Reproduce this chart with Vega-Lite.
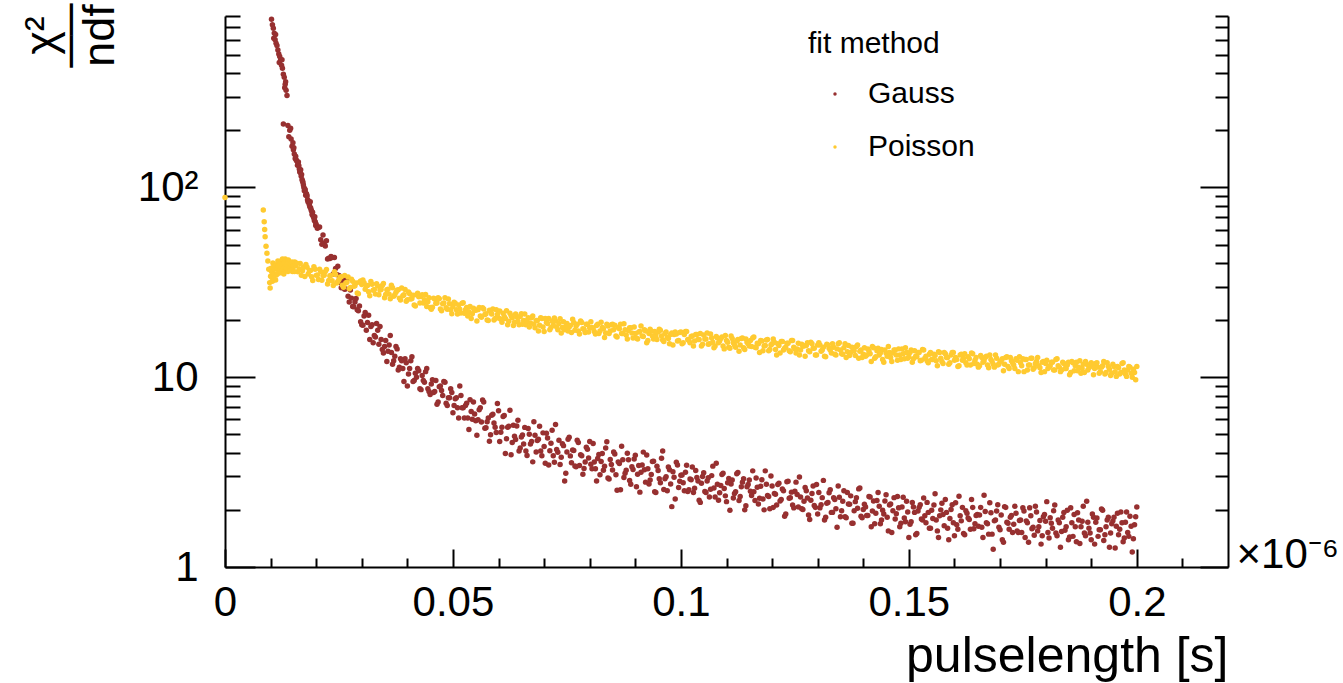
{
"$schema":"https://vega.github.io/schema/vega-lite/v6.json",
"width":1003,"height":551,
"autosize":{"type":"none"},
"padding":{"left":225,"top":16,"right":115,"bottom":116},
"background":"white",
"config":{"view":{"stroke":null},"font":"Liberation Sans",
 "axis":{"domainColor":"black","domainWidth":2,"tickColor":"black","tickWidth":2,"grid":false,"labelColor":"black","titleColor":"black","labelFont":"Liberation Sans","titleFont":"Liberation Sans","titleFontWeight":"normal"}},
"datasets":{
"gauss":[
{"x":0.0102,"y":770},{"x":0.0104,"y":720},{"x":0.0106,"y":690},{"x":0.0107,"y":610},{"x":0.0108,"y":650},{"x":0.011,"y":600},{"x":0.0111,"y":640},{"x":0.0112,"y":575},{"x":0.0114,"y":560},{"x":0.0116,"y":530},{"x":0.0118,"y":505},{"x":0.0119,"y":455},{"x":0.012,"y":490},{"x":0.0122,"y":470},{"x":0.0124,"y":440},{"x":0.0125,"y":470},{"x":0.0126,"y":425},{"x":0.0128,"y":395},{"x":0.013,"y":380},{"x":0.0131,"y":335},{"x":0.0132,"y":350},{"x":0.0133,"y":360},{"x":0.0134,"y":325},{"x":0.0136,"y":305},
{"x":0.0128,"y":216},{"x":0.0138,"y":212},{"x":0.0142,"y":200},{"x":0.0144,"y":205},{"x":0.014,"y":185},{"x":0.0145,"y":180},{"x":0.0147,"y":165},{"x":0.0149,"y":172},{"x":0.015,"y":158},{"x":0.0151,"y":162},{"x":0.0152,"y":150},{"x":0.0154,"y":142},{"x":0.0155,"y":146},{"x":0.0156,"y":140},{"x":0.0157,"y":138},{"x":0.0159,"y":131},{"x":0.016,"y":133},{"x":0.0161,"y":136},{"x":0.0162,"y":130},{"x":0.0163,"y":125},{"x":0.0164,"y":121},{"x":0.0165,"y":120},{"x":0.0166,"y":124},{"x":0.0167,"y":115},{"x":0.0168,"y":117},{"x":0.0169,"y":110},{"x":0.017,"y":108},{"x":0.0171,"y":106},{"x":0.0172,"y":103},{"x":0.0173,"y":100},{"x":0.0174,"y":96},{"x":0.0175,"y":98},{"x":0.0176,"y":97},{"x":0.0177,"y":91},{"x":0.0178,"y":93},{"x":0.0179,"y":92},{"x":0.018,"y":90},{"x":0.0181,"y":86},{"x":0.0182,"y":84},{"x":0.0183,"y":85},{"x":0.0184,"y":83},{"x":0.0185,"y":81},{"x":0.0186,"y":79},{"x":0.0187,"y":84},{"x":0.0188,"y":78},{"x":0.0189,"y":76},{"x":0.019,"y":75},{"x":0.0191,"y":72},{"x":0.0192,"y":74},{"x":0.0193,"y":71},{"x":0.0194,"y":70},{"x":0.0195,"y":69},{"x":0.0196,"y":67},{"x":0.0197,"y":70},{"x":0.0198,"y":66},{"x":0.0199,"y":63},{"x":0.02,"y":64},
{"x":0.0205,"y":61.4},{"x":0.021,"y":53.0},{"x":0.0215,"y":56.1},{"x":0.022,"y":49.1},{"x":0.0225,"y":42.0},{"x":0.023,"y":42.2},{"x":0.0235,"y":42.7},{"x":0.024,"y":42.7},{"x":0.0245,"y":34.8},{"x":0.025,"y":34.3},{"x":0.0255,"y":29.6},{"x":0.026,"y":32.3},{"x":0.0265,"y":29.2},{"x":0.027,"y":26.7},{"x":0.0275,"y":28.8},{"x":0.028,"y":23.6},{"x":0.0285,"y":24.9},{"x":0.029,"y":22.7},{"x":0.0295,"y":23.7},{"x":0.03,"y":18.9},
{"x":0.02025,"y":60.9},{"x":0.02075,"y":61.8},{"x":0.02125,"y":50.1},{"x":0.02175,"y":50.9},{"x":0.02225,"y":52.4},{"x":0.02275,"y":42.3},{"x":0.02325,"y":43.2},{"x":0.02375,"y":35.0},{"x":0.02425,"y":37.4},{"x":0.02475,"y":38.4},{"x":0.02525,"y":31.5},{"x":0.02575,"y":33.2},{"x":0.02625,"y":29.1},{"x":0.02675,"y":32.7},{"x":0.02725,"y":24.9},{"x":0.02775,"y":26.1},{"x":0.02825,"y":23.5},{"x":0.02875,"y":26.0},{"x":0.02925,"y":22.4},{"x":0.02975,"y":19.6},
{"x":0.0305,"y":21.0},{"x":0.031,"y":17.7},{"x":0.0315,"y":21.2},{"x":0.032,"y":18.5},{"x":0.0325,"y":15.2},{"x":0.033,"y":16.3},{"x":0.0335,"y":17.7},{"x":0.034,"y":18.5},{"x":0.0345,"y":14.0},{"x":0.035,"y":14.5},
{"x":0.0355,"y":12.1},{"x":0.036,"y":14.8},{"x":0.0365,"y":13.5},{"x":0.037,"y":12.2},{"x":0.0375,"y":14.5},{"x":0.038,"y":10.9},{"x":0.0385,"y":12.5},{"x":0.039,"y":11.1},{"x":0.0395,"y":12.5},{"x":0.04,"y":9.0},
{"x":0.0405,"y":11.1},{"x":0.041,"y":12.8},{"x":0.0415,"y":9.6},{"x":0.042,"y":10.0},{"x":0.0425,"y":10.8},{"x":0.043,"y":8.6},{"x":0.0435,"y":9.6},{"x":0.044,"y":10.7},{"x":0.0445,"y":8.7},{"x":0.045,"y":8.1},
{"x":0.0455,"y":9.7},{"x":0.046,"y":8.4},{"x":0.0465,"y":7.2},{"x":0.047,"y":8.9},{"x":0.0475,"y":8.5},{"x":0.048,"y":9.5},{"x":0.0485,"y":7.3},{"x":0.049,"y":7.8},{"x":0.0495,"y":8.7},{"x":0.05,"y":6.5},
{"x":0.0505,"y":7.7},{"x":0.051,"y":6.9},{"x":0.0515,"y":9.0},{"x":0.052,"y":6.9},{"x":0.0525,"y":6.1},{"x":0.053,"y":7.3},{"x":0.0535,"y":5.3},{"x":0.054,"y":6.6},{"x":0.0545,"y":7.4},{"x":0.055,"y":5.9},
{"x":0.0555,"y":5.96},{"x":0.056,"y":6.91},{"x":0.0565,"y":7.59},{"x":0.057,"y":5.39},{"x":0.0575,"y":5.82},{"x":0.058,"y":4.60},{"x":0.0585,"y":6.30},{"x":0.059,"y":5.74},{"x":0.0595,"y":5.11},{"x":0.06,"y":6.66},
{"x":0.0605,"y":5.13},{"x":0.061,"y":6.20},{"x":0.0615,"y":3.96},{"x":0.062,"y":5.45},{"x":0.0625,"y":6.69},{"x":0.063,"y":4.53},{"x":0.0635,"y":4.89},{"x":0.064,"y":5.53},{"x":0.0645,"y":4.08},{"x":0.065,"y":4.84},
{"x":0.0655,"y":4.45},{"x":0.066,"y":4.09},{"x":0.0665,"y":5.36},{"x":0.067,"y":4.45},{"x":0.0675,"y":3.58},{"x":0.068,"y":4.94},{"x":0.0685,"y":4.64},{"x":0.069,"y":5.52},{"x":0.0695,"y":3.86},{"x":0.07,"y":4.31},
{"x":0.0705,"y":5.06},{"x":0.071,"y":3.45},{"x":0.0715,"y":4.49},{"x":0.072,"y":3.86},{"x":0.0725,"y":5.63},{"x":0.073,"y":4.02},{"x":0.0735,"y":3.47},{"x":0.074,"y":4.46},{"x":0.0745,"y":2.84},{"x":0.075,"y":4.04},
{"x":0.0755,"y":4.83},{"x":0.076,"y":3.54},{"x":0.0765,"y":4.11},{"x":0.077,"y":3.37},{"x":0.0775,"y":4.53},{"x":0.078,"y":3.90},{"x":0.0785,"y":3.08},{"x":0.079,"y":3.57},{"x":0.0795,"y":4.17},{"x":0.08,"y":4.59},
{"x":0.0805,"y":3.29},{"x":0.081,"y":3.57},{"x":0.0815,"y":2.84},{"x":0.082,"y":3.92},{"x":0.0825,"y":3.60},{"x":0.083,"y":3.23},{"x":0.0835,"y":4.24},{"x":0.084,"y":2.94},{"x":0.0845,"y":3.69},{"x":0.085,"y":3.24},
{"x":0.0855,"y":3.94},{"x":0.086,"y":2.54},{"x":0.0865,"y":3.51},{"x":0.087,"y":4.33},{"x":0.0875,"y":2.96},{"x":0.088,"y":3.23},{"x":0.0885,"y":3.67},{"x":0.089,"y":2.73},{"x":0.0895,"y":3.26},{"x":0.09,"y":3.88},
{"x":0.0905,"y":3.08},{"x":0.091,"y":2.48},{"x":0.0915,"y":3.45},{"x":0.092,"y":3.25},{"x":0.0925,"y":3.89},{"x":0.093,"y":2.74},{"x":0.0935,"y":3.07},{"x":0.094,"y":3.61},{"x":0.0945,"y":2.47},{"x":0.095,"y":3.22},
{"x":0.0955,"y":2.78},{"x":0.096,"y":4.08},{"x":0.0965,"y":2.92},{"x":0.097,"y":2.52},{"x":0.0975,"y":3.25},{"x":0.098,"y":2.08},{"x":0.0985,"y":2.97},{"x":0.099,"y":3.56},{"x":0.0995,"y":2.62},{"x":0.1,"y":3.04},
{"x":0.1005,"y":2.78},{"x":0.101,"y":3.16},{"x":0.1015,"y":2.50},{"x":0.102,"y":2.91},{"x":0.1025,"y":3.36},{"x":0.103,"y":2.60},{"x":0.1035,"y":2.96},{"x":0.104,"y":2.25},{"x":0.1045,"y":2.76},{"x":0.105,"y":3.14},
{"x":0.1055,"y":2.47},{"x":0.106,"y":2.95},{"x":0.1065,"y":2.57},{"x":0.107,"y":3.40},{"x":0.1075,"y":2.34},{"x":0.108,"y":2.73},{"x":0.1085,"y":2.46},{"x":0.109,"y":3.07},{"x":0.1095,"y":2.59},{"x":0.11,"y":2.21},
{"x":0.1105,"y":2.93},{"x":0.111,"y":2.74},{"x":0.1115,"y":2.31},{"x":0.112,"y":2.49},{"x":0.1125,"y":3.15},{"x":0.113,"y":2.35},{"x":0.1135,"y":2.80},{"x":0.114,"y":2.00},{"x":0.1145,"y":2.65},{"x":0.115,"y":2.87},
{"x":0.1155,"y":2.38},{"x":0.116,"y":2.49},{"x":0.1165,"y":2.94},{"x":0.117,"y":2.15},{"x":0.1175,"y":2.66},{"x":0.118,"y":2.28},{"x":0.1185,"y":3.21},{"x":0.119,"y":2.38},{"x":0.1195,"y":2.03},{"x":0.12,"y":2.67},
{"x":0.1205,"y":2.44},{"x":0.121,"y":2.12},{"x":0.1215,"y":2.76},{"x":0.122,"y":2.27},{"x":0.1225,"y":2.52},{"x":0.123,"y":1.90},{"x":0.1235,"y":2.83},{"x":0.124,"y":2.32},{"x":0.1245,"y":2.12},{"x":0.125,"y":2.51},
{"x":0.1255,"y":2.41},{"x":0.126,"y":2.98},{"x":0.1265,"y":2.03},{"x":0.127,"y":2.22},{"x":0.1275,"y":2.52},{"x":0.128,"y":1.88},{"x":0.1285,"y":2.25},{"x":0.129,"y":2.67},{"x":0.1295,"y":2.06},{"x":0.13,"y":1.90},
{"x":0.1305,"y":2.05},{"x":0.131,"y":2.32},{"x":0.1315,"y":1.77},{"x":0.132,"y":2.17},{"x":0.1325,"y":2.46},{"x":0.133,"y":1.94},{"x":0.1335,"y":2.32},{"x":0.134,"y":2.03},{"x":0.1345,"y":2.67},{"x":0.135,"y":1.84},
{"x":0.1355,"y":2.22},{"x":0.136,"y":1.84},{"x":0.1365,"y":2.47},{"x":0.137,"y":2.14},{"x":0.1375,"y":1.70},{"x":0.138,"y":1.98},{"x":0.1385,"y":2.32},{"x":0.139,"y":2.58},{"x":0.1395,"y":1.85},{"x":0.14,"y":2.01},
{"x":0.1405,"y":2.07},{"x":0.141,"y":1.87},{"x":0.1415,"y":2.34},{"x":0.142,"y":1.97},{"x":0.1425,"y":1.69},{"x":0.143,"y":2.24},{"x":0.1435,"y":2.09},{"x":0.144,"y":1.77},{"x":0.1445,"y":1.90},{"x":0.145,"y":2.40},
{"x":0.1455,"y":1.55},{"x":0.146,"y":2.15},{"x":0.1465,"y":1.98},{"x":0.147,"y":1.79},{"x":0.1475,"y":2.35},{"x":0.148,"y":1.63},{"x":0.1485,"y":2.07},{"x":0.149,"y":1.81},{"x":0.1495,"y":2.22},{"x":0.15,"y":1.43},
{"x":0.1505,"y":1.73},{"x":0.151,"y":2.07},{"x":0.1515,"y":1.48},{"x":0.152,"y":1.97},{"x":0.1525,"y":2.13},{"x":0.153,"y":1.77},{"x":0.1535,"y":1.86},{"x":0.154,"y":2.19},{"x":0.1545,"y":1.60},{"x":0.155,"y":1.99},
{"x":0.1555,"y":2.12},{"x":0.156,"y":1.77},{"x":0.1565,"y":1.43},{"x":0.157,"y":2.00},{"x":0.1575,"y":1.89},{"x":0.158,"y":2.27},{"x":0.1585,"y":1.60},{"x":0.159,"y":1.80},{"x":0.1595,"y":2.13},{"x":0.16,"y":1.46},
{"x":0.1605,"y":1.67},{"x":0.161,"y":2.36},{"x":0.1615,"y":1.75},{"x":0.162,"y":1.50},{"x":0.1625,"y":1.98},{"x":0.163,"y":1.81},{"x":0.1635,"y":1.58},{"x":0.164,"y":2.06},{"x":0.1645,"y":1.69},{"x":0.165,"y":1.89},
{"x":0.1655,"y":1.88},{"x":0.166,"y":1.62},{"x":0.1665,"y":2.39},{"x":0.167,"y":1.71},{"x":0.1675,"y":1.49},{"x":0.168,"y":1.93},{"x":0.1685,"y":1.24},{"x":0.169,"y":1.77},{"x":0.1695,"y":2.13},{"x":0.17,"y":1.57},
{"x":0.1705,"y":1.39},{"x":0.171,"y":2.08},{"x":0.1715,"y":1.72},{"x":0.172,"y":1.58},{"x":0.1725,"y":1.87},{"x":0.173,"y":1.68},{"x":0.1735,"y":1.92},{"x":0.174,"y":1.52},{"x":0.1745,"y":1.77},{"x":0.175,"y":2.05},
{"x":0.1755,"y":1.43},{"x":0.176,"y":1.71},{"x":0.1765,"y":2.05},{"x":0.177,"y":1.59},{"x":0.1775,"y":1.47},{"x":0.178,"y":1.95},{"x":0.1785,"y":1.63},{"x":0.179,"y":1.32},{"x":0.1795,"y":1.84},{"x":0.18,"y":1.74},
{"x":0.1805,"y":1.52},{"x":0.181,"y":1.82},{"x":0.1815,"y":1.60},{"x":0.182,"y":2.12},{"x":0.1825,"y":1.46},{"x":0.183,"y":1.71},{"x":0.1835,"y":1.54},{"x":0.184,"y":1.94},{"x":0.1845,"y":1.63},{"x":0.185,"y":1.39},
{"x":0.1855,"y":2.05},{"x":0.186,"y":1.45},{"x":0.1865,"y":1.63},{"x":0.187,"y":1.93},{"x":0.1875,"y":1.33},{"x":0.188,"y":1.74},{"x":0.1885,"y":1.51},{"x":0.189,"y":2.22},{"x":0.1895,"y":1.60},{"x":0.19,"y":1.39},
{"x":0.1905,"y":1.83},{"x":0.191,"y":1.72},{"x":0.1915,"y":1.45},{"x":0.192,"y":1.57},{"x":0.1925,"y":1.99},{"x":0.193,"y":1.48},{"x":0.1935,"y":1.77},{"x":0.194,"y":1.27},{"x":0.1945,"y":1.69},{"x":0.195,"y":1.83},
{"x":0.1955,"y":1.64},{"x":0.196,"y":1.48},{"x":0.1965,"y":1.95},{"x":0.197,"y":1.36},{"x":0.1975,"y":1.72},{"x":0.198,"y":1.52},{"x":0.1985,"y":1.85},{"x":0.199,"y":1.20},{"x":0.1995,"y":1.67},{"x":0.2,"y":2.07},
{"x":0.03025,"y":18.8},{"x":0.03075,"y":21.9},{"x":0.03125,"y":19.4},{"x":0.03175,"y":15.8},{"x":0.03225,"y":18.9},{"x":0.03275,"y":16.6},{"x":0.03325,"y":19.2},{"x":0.03375,"y":14.9},{"x":0.03425,"y":15.8},{"x":0.03475,"y":13.4},
{"x":0.03525,"y":15.6},{"x":0.03575,"y":13.7},{"x":0.03625,"y":16.6},{"x":0.03675,"y":11.7},{"x":0.03725,"y":12.9},{"x":0.03775,"y":14.1},{"x":0.03825,"y":11.3},{"x":0.03875,"y":12.2},{"x":0.03925,"y":9.5},{"x":0.03975,"y":11.9},
{"x":0.04025,"y":10.4},{"x":0.04075,"y":12.2},{"x":0.04125,"y":9.5},{"x":0.04175,"y":10.5},{"x":0.04225,"y":11.1},{"x":0.04275,"y":8.7},{"x":0.04325,"y":10.2},{"x":0.04375,"y":9.4},{"x":0.04425,"y":11.1},{"x":0.04475,"y":8.4},
{"x":0.04525,"y":9.2},{"x":0.04575,"y":8.3},{"x":0.04625,"y":9.6},{"x":0.04675,"y":7.4},{"x":0.04725,"y":9.0},{"x":0.04775,"y":8.0},{"x":0.04825,"y":9.4},{"x":0.04875,"y":7.1},{"x":0.04925,"y":7.8},{"x":0.04975,"y":8.3},
{"x":0.05025,"y":7.1},{"x":0.05075,"y":7.8},{"x":0.05125,"y":6.1},{"x":0.05175,"y":8.0},{"x":0.05225,"y":6.9},{"x":0.05275,"y":7.1},{"x":0.05325,"y":6.1},{"x":0.05375,"y":7.6},{"x":0.05425,"y":6.0},{"x":0.05475,"y":6.4},
{"x":0.05525,"y":4.95},{"x":0.05575,"y":6.74},{"x":0.05625,"y":5.80},{"x":0.05675,"y":7.40},{"x":0.05725,"y":5.41},{"x":0.05775,"y":6.09},{"x":0.05825,"y":4.97},{"x":0.05875,"y":6.38},{"x":0.05925,"y":5.45},{"x":0.05975,"y":7.26},
{"x":0.06025,"y":4.59},{"x":0.06075,"y":5.45},{"x":0.06125,"y":6.29},{"x":0.06175,"y":4.74},{"x":0.06225,"y":5.51},{"x":0.06275,"y":3.90},{"x":0.06325,"y":5.58},{"x":0.06375,"y":4.70},{"x":0.06425,"y":5.93},{"x":0.06475,"y":4.24},
{"x":0.06525,"y":4.96},{"x":0.06575,"y":5.44},{"x":0.06625,"y":3.87},{"x":0.06675,"y":5.01},{"x":0.06725,"y":4.58},{"x":0.06775,"y":5.82},{"x":0.06825,"y":4.04},{"x":0.06875,"y":4.71},{"x":0.06925,"y":4.08},{"x":0.06975,"y":5.09},
{"x":0.07025,"y":3.52},{"x":0.07075,"y":4.78},{"x":0.07125,"y":4.10},{"x":0.07175,"y":5.25},{"x":0.07225,"y":3.56},{"x":0.07275,"y":4.16},{"x":0.07325,"y":4.66},{"x":0.07375,"y":3.79},{"x":0.07425,"y":4.36},{"x":0.07475,"y":3.12},
{"x":0.07525,"y":4.71},{"x":0.07575,"y":3.85},{"x":0.07625,"y":4.13},{"x":0.07675,"y":3.41},{"x":0.07725,"y":4.65},{"x":0.07775,"y":3.43},{"x":0.07825,"y":3.86},{"x":0.07875,"y":3.30},{"x":0.07925,"y":4.27},{"x":0.07975,"y":3.75},
{"x":0.08025,"y":3.48},{"x":0.08075,"y":4.48},{"x":0.08125,"y":3.29},{"x":0.08175,"y":3.73},{"x":0.08225,"y":3.06},{"x":0.08275,"y":3.96},{"x":0.08325,"y":3.40},{"x":0.08375,"y":4.57},{"x":0.08425,"y":2.91},{"x":0.08475,"y":3.47},
{"x":0.08525,"y":4.04},{"x":0.08575,"y":3.06},{"x":0.08625,"y":3.58},{"x":0.08675,"y":2.55},{"x":0.08725,"y":3.67},{"x":0.08775,"y":3.12},{"x":0.08825,"y":3.97},{"x":0.08875,"y":2.86},{"x":0.08925,"y":3.37},{"x":0.08975,"y":3.71},
{"x":0.09025,"y":2.65},{"x":0.09075,"y":3.43},{"x":0.09125,"y":3.16},{"x":0.09175,"y":4.03},{"x":0.09225,"y":2.80},{"x":0.09275,"y":3.29},{"x":0.09325,"y":2.87},{"x":0.09375,"y":3.60},{"x":0.09425,"y":2.49},{"x":0.09475,"y":3.40},
{"x":0.09525,"y":2.92},{"x":0.09575,"y":3.74},{"x":0.09625,"y":2.56},{"x":0.09675,"y":2.99},{"x":0.09725,"y":3.36},{"x":0.09775,"y":2.74},{"x":0.09825,"y":3.18},{"x":0.09875,"y":2.28},{"x":0.09925,"y":3.45},{"x":0.09975,"y":2.83},
{"x":0.10025,"y":3.05},{"x":0.10075,"y":2.52},{"x":0.10125,"y":3.44},{"x":0.10175,"y":2.55},{"x":0.10225,"y":2.88},{"x":0.10275,"y":2.47},{"x":0.10325,"y":3.22},{"x":0.10375,"y":2.84},{"x":0.10425,"y":2.19},{"x":0.10475,"y":3.00},
{"x":0.10525,"y":2.50},{"x":0.10575,"y":2.84},{"x":0.10625,"y":2.34},{"x":0.10675,"y":3.03},{"x":0.10725,"y":2.61},{"x":0.10775,"y":3.52},{"x":0.10825,"y":2.25},{"x":0.10875,"y":2.69},{"x":0.10925,"y":3.12},{"x":0.10975,"y":2.37},
{"x":0.11025,"y":2.78},{"x":0.11075,"y":1.99},{"x":0.11125,"y":2.87},{"x":0.11175,"y":2.44},{"x":0.11225,"y":3.10},{"x":0.11275,"y":2.24},{"x":0.11325,"y":2.65},{"x":0.11375,"y":2.92},{"x":0.11425,"y":2.10},{"x":0.11475,"y":2.72},
{"x":0.11525,"y":2.51},{"x":0.11575,"y":3.21},{"x":0.11625,"y":2.24},{"x":0.11675,"y":2.63},{"x":0.11725,"y":2.30},{"x":0.11775,"y":2.88},{"x":0.11825,"y":2.00},{"x":0.11875,"y":2.73},{"x":0.11925,"y":2.35},{"x":0.11975,"y":3.02},
{"x":0.12025,"y":2.06},{"x":0.12075,"y":2.42},{"x":0.12125,"y":2.72},{"x":0.12175,"y":2.23},{"x":0.12225,"y":2.58},{"x":0.12275,"y":1.85},{"x":0.12325,"y":2.81},{"x":0.12375,"y":2.30},{"x":0.12425,"y":2.48},{"x":0.12475,"y":2.05},
{"x":0.12525,"y":2.80},{"x":0.12575,"y":2.07},{"x":0.12625,"y":2.34},{"x":0.12675,"y":2.01},{"x":0.12725,"y":2.62},{"x":0.12775,"y":2.31},{"x":0.12825,"y":1.78},{"x":0.12875,"y":2.44},{"x":0.12925,"y":2.11},{"x":0.12975,"y":2.72},
{"x":0.13025,"y":2.47},{"x":0.13075,"y":2.13},{"x":0.13125,"y":2.86},{"x":0.13175,"y":1.83},{"x":0.13225,"y":2.19},{"x":0.13275,"y":2.55},{"x":0.13325,"y":1.94},{"x":0.13375,"y":2.27},{"x":0.13425,"y":1.62},{"x":0.13475,"y":2.33},
{"x":0.13525,"y":1.98},{"x":0.13575,"y":2.52},{"x":0.13625,"y":1.82},{"x":0.13675,"y":2.15},{"x":0.13725,"y":2.37},{"x":0.13775,"y":1.70},{"x":0.13825,"y":2.21},{"x":0.13875,"y":2.04},{"x":0.13925,"y":2.61},{"x":0.13975,"y":1.82},
{"x":0.14025,"y":2.14},{"x":0.14075,"y":1.87},{"x":0.14125,"y":2.35},{"x":0.14175,"y":1.63},{"x":0.14225,"y":2.23},{"x":0.14275,"y":1.92},{"x":0.14325,"y":2.47},{"x":0.14375,"y":1.69},{"x":0.14425,"y":1.99},{"x":0.14475,"y":2.23},
{"x":0.14525,"y":1.83},{"x":0.14575,"y":2.12},{"x":0.14625,"y":1.52},{"x":0.14675,"y":2.32},{"x":0.14725,"y":1.91},{"x":0.14775,"y":2.05},{"x":0.14825,"y":1.70},{"x":0.14875,"y":2.33},{"x":0.14925,"y":1.73},{"x":0.14975,"y":1.95},
{"x":0.15025,"y":1.68},{"x":0.15075,"y":2.19},{"x":0.15125,"y":1.94},{"x":0.15175,"y":1.50},{"x":0.15225,"y":2.06},{"x":0.15275,"y":1.79},{"x":0.15325,"y":2.31},{"x":0.15375,"y":1.71},{"x":0.15425,"y":1.94},{"x":0.15475,"y":1.60},
{"x":0.15525,"y":1.80},{"x":0.15575,"y":2.43},{"x":0.15625,"y":1.55},{"x":0.15675,"y":1.86},{"x":0.15725,"y":2.17},{"x":0.15775,"y":1.65},{"x":0.15825,"y":1.94},{"x":0.15875,"y":1.39},{"x":0.15925,"y":2.01},{"x":0.15975,"y":1.71},
{"x":0.16025,"y":2.18},{"x":0.16075,"y":1.58},{"x":0.16125,"y":1.86},{"x":0.16175,"y":2.06},{"x":0.16225,"y":1.48},{"x":0.16275,"y":1.92},{"x":0.16325,"y":1.78},{"x":0.16375,"y":2.27},{"x":0.16425,"y":1.59},{"x":0.16475,"y":1.87},
{"x":0.16525,"y":1.64},{"x":0.16575,"y":2.06},{"x":0.16625,"y":1.43},{"x":0.16675,"y":1.96},{"x":0.16725,"y":1.69},{"x":0.16775,"y":2.18},{"x":0.16825,"y":1.49},{"x":0.16875,"y":1.75},{"x":0.16925,"y":1.97},{"x":0.16975,"y":1.62},
{"x":0.17025,"y":1.88},{"x":0.17075,"y":1.35},{"x":0.17125,"y":2.06},{"x":0.17175,"y":1.70},{"x":0.17225,"y":1.83},{"x":0.17275,"y":1.52},{"x":0.17325,"y":2.09},{"x":0.17375,"y":1.55},{"x":0.17425,"y":1.76},{"x":0.17475,"y":1.52},
{"x":0.17525,"y":1.97},{"x":0.17575,"y":1.75},{"x":0.17625,"y":1.35},{"x":0.17675,"y":1.86},{"x":0.17725,"y":1.62},{"x":0.17775,"y":2.09},{"x":0.17825,"y":1.55},{"x":0.17875,"y":1.76},{"x":0.17925,"y":1.46},{"x":0.17975,"y":1.89},
{"x":0.18025,"y":2.21},{"x":0.18075,"y":1.42},{"x":0.18125,"y":1.70},{"x":0.18175,"y":1.98},{"x":0.18225,"y":1.51},{"x":0.18275,"y":1.77},{"x":0.18325,"y":1.27},{"x":0.18375,"y":1.83},{"x":0.18425,"y":1.56},{"x":0.18475,"y":1.99},
{"x":0.18525,"y":1.44},{"x":0.18575,"y":1.71},{"x":0.18625,"y":1.89},{"x":0.18675,"y":1.36},{"x":0.18725,"y":1.77},{"x":0.18775,"y":1.63},{"x":0.18825,"y":2.09},{"x":0.18875,"y":1.46},{"x":0.18925,"y":1.72},{"x":0.18975,"y":1.51},
{"x":0.19025,"y":1.90},{"x":0.19075,"y":1.32},{"x":0.19125,"y":1.81},{"x":0.19175,"y":1.57},{"x":0.19225,"y":2.02},{"x":0.19275,"y":1.38},{"x":0.19325,"y":1.63},{"x":0.19375,"y":1.83},{"x":0.19425,"y":1.51},{"x":0.19475,"y":1.75},
{"x":0.19525,"y":1.26},{"x":0.19575,"y":1.92},{"x":0.19625,"y":1.58},{"x":0.19675,"y":1.71},{"x":0.19725,"y":1.42},{"x":0.19775,"y":1.95},{"x":0.19825,"y":1.45},{"x":0.19875,"y":1.64},{"x":0.19925,"y":1.41},{"x":0.19975,"y":1.84}
],
"poisson":[
{"x":0,"y":88.5},{"x":0.0084,"y":76},{"x":0.0086,"y":66},{"x":0.0087,"y":60},{"x":0.0088,"y":55},{"x":0.009,"y":49},{"x":0.0092,"y":45},{"x":0.0094,"y":41},{"x":0.0096,"y":37},{"x":0.0098,"y":31.5},{"x":0.0099,"y":29.5},{"x":0.01,"y":34},{"x":0.0101,"y":37.5},{"x":0.0102,"y":36},{"x":0.0103,"y":33.5},{"x":0.0104,"y":32},{"x":0.0105,"y":40},{"x":0.0106,"y":38},{"x":0.0107,"y":34},{"x":0.0108,"y":35},{"x":0.0109,"y":37},{"x":0.011,"y":39},{"x":0.0111,"y":32.5},{"x":0.0112,"y":34.5},{"x":0.0113,"y":39},{"x":0.0114,"y":37.5},{"x":0.0115,"y":35},{"x":0.0116,"y":41},{"x":0.0117,"y":38.5},{"x":0.0118,"y":36},{"x":0.0119,"y":40.5},{"x":0.012,"y":39.5},{"x":0.0121,"y":37},{"x":0.0122,"y":35.5},{"x":0.0123,"y":41},{"x":0.0124,"y":38},{"x":0.0125,"y":36.5},{"x":0.0126,"y":42},{"x":0.0127,"y":39.5},{"x":0.0128,"y":37},{"x":0.0129,"y":35},{"x":0.013,"y":40},{"x":0.0131,"y":38},{"x":0.0132,"y":42},{"x":0.0133,"y":36.5},{"x":0.0135,"y":37.5},{"x":0.0136,"y":39},{"x":0.0138,"y":36},{"x":0.0139,"y":41.5},{"x":0.0141,"y":40},{"x":0.0142,"y":37.5},{"x":0.0144,"y":36.5},{"x":0.0145,"y":39.5},{"x":0.0147,"y":40.5},{"x":0.0148,"y":36},{"x":0.0149,"y":37.5},{"x":0.015,"y":38.5},{"x":0.0153,"y":40.5},
{"x":0.0155,"y":38.8},{"x":0.016,"y":35.9},{"x":0.0165,"y":39.7},{"x":0.017,"y":36.4},{"x":0.0175,"y":33.9},{"x":0.018,"y":38.0},{"x":0.0185,"y":36.3},{"x":0.019,"y":33.8},{"x":0.0195,"y":38.2},{"x":0.02,"y":34.4},
{"x":0.0205,"y":32.7},{"x":0.021,"y":36.0},{"x":0.0215,"y":34.3},{"x":0.022,"y":36.0},{"x":0.0225,"y":31.0},{"x":0.023,"y":34.2},{"x":0.0235,"y":32.2},{"x":0.024,"y":35.9},{"x":0.0245,"y":31.4},{"x":0.025,"y":32.7},
{"x":0.0255,"y":33.8},{"x":0.026,"y":29.8},{"x":0.0265,"y":31.4},{"x":0.027,"y":33.7},{"x":0.0275,"y":29.7},{"x":0.028,"y":32.0},{"x":0.0285,"y":30.3},{"x":0.029,"y":27.8},{"x":0.0295,"y":31.6},{"x":0.03,"y":30.8},
{"x":0.0305,"y":31.5},{"x":0.031,"y":30.2},{"x":0.0315,"y":28.2},{"x":0.032,"y":31.9},{"x":0.0325,"y":28.7},{"x":0.033,"y":27.4},{"x":0.0335,"y":30.2},{"x":0.034,"y":28.8},{"x":0.0345,"y":30.4},{"x":0.035,"y":26.2},
{"x":0.0355,"y":28.9},{"x":0.036,"y":27.4},{"x":0.0365,"y":30.5},{"x":0.037,"y":26.7},{"x":0.0375,"y":28.0},{"x":0.038,"y":28.9},{"x":0.0385,"y":25.5},{"x":0.039,"y":26.9},{"x":0.0395,"y":29.0},{"x":0.04,"y":25.6},
{"x":0.0405,"y":27.5},{"x":0.041,"y":26.0},{"x":0.0415,"y":24.0},{"x":0.042,"y":27.2},{"x":0.0425,"y":26.5},{"x":0.043,"y":26.6},{"x":0.0435,"y":24.6},{"x":0.044,"y":27.3},{"x":0.0445,"y":25.0},{"x":0.045,"y":23.3},
{"x":0.0455,"y":23.4},{"x":0.046,"y":25.8},{"x":0.0465,"y":24.6},{"x":0.047,"y":25.9},{"x":0.0475,"y":22.4},{"x":0.048,"y":24.6},{"x":0.0485,"y":23.2},{"x":0.049,"y":25.8},{"x":0.0495,"y":22.7},{"x":0.05,"y":23.6},
{"x":0.0505,"y":24.5},{"x":0.051,"y":21.5},{"x":0.0515,"y":22.8},{"x":0.052,"y":24.5},{"x":0.0525,"y":21.7},{"x":0.053,"y":23.3},{"x":0.0535,"y":22.1},{"x":0.054,"y":20.4},{"x":0.0545,"y":23.1},{"x":0.055,"y":22.5},
{"x":0.0555,"y":22.7},{"x":0.056,"y":21.0},{"x":0.0565,"y":23.2},{"x":0.057,"y":21.4},{"x":0.0575,"y":20.0},{"x":0.058,"y":22.5},{"x":0.0585,"y":21.5},{"x":0.059,"y":20.0},{"x":0.0595,"y":22.7},{"x":0.06,"y":20.5},
{"x":0.0605,"y":20.2},{"x":0.061,"y":21.7},{"x":0.0615,"y":20.4},{"x":0.062,"y":18.9},{"x":0.0625,"y":21.7},{"x":0.063,"y":20.6},{"x":0.0635,"y":19.5},{"x":0.064,"y":20.8},{"x":0.0645,"y":18.9},{"x":0.065,"y":21.6},
{"x":0.0655,"y":19.9},{"x":0.066,"y":18.9},{"x":0.0665,"y":20.6},{"x":0.067,"y":19.3},{"x":0.0675,"y":21.0},{"x":0.068,"y":18.2},{"x":0.0685,"y":19.9},{"x":0.069,"y":18.8},{"x":0.0695,"y":20.4},{"x":0.07,"y":17.4},
{"x":0.0705,"y":19.4},{"x":0.071,"y":20.4},{"x":0.0715,"y":18.3},{"x":0.072,"y":18.8},{"x":0.0725,"y":19.8},{"x":0.073,"y":17.8},{"x":0.0735,"y":20.3},{"x":0.074,"y":18.3},{"x":0.0745,"y":17.8},{"x":0.075,"y":19.2},
{"x":0.0755,"y":18.4},{"x":0.076,"y":17.2},{"x":0.0765,"y":19.4},{"x":0.077,"y":18.6},{"x":0.0775,"y":17.5},{"x":0.078,"y":19.8},{"x":0.0785,"y":18.0},{"x":0.079,"y":17.2},{"x":0.0795,"y":19.0},{"x":0.08,"y":18.2},
{"x":0.0805,"y":18.3},{"x":0.081,"y":17.4},{"x":0.0815,"y":18.7},{"x":0.082,"y":17.0},{"x":0.0825,"y":19.5},{"x":0.083,"y":18.0},{"x":0.0835,"y":17.1},{"x":0.084,"y":18.6},{"x":0.0845,"y":17.5},{"x":0.085,"y":19.0},
{"x":0.0855,"y":18.8},{"x":0.086,"y":16.3},{"x":0.0865,"y":18.0},{"x":0.087,"y":17.0},{"x":0.0875,"y":19.1},{"x":0.088,"y":16.7},{"x":0.0885,"y":17.6},{"x":0.089,"y":18.2},{"x":0.0895,"y":16.1},{"x":0.09,"y":17.0},
{"x":0.0905,"y":15.9},{"x":0.091,"y":17.4},{"x":0.0915,"y":16.5},{"x":0.092,"y":17.8},{"x":0.0925,"y":15.2},{"x":0.093,"y":17.0},{"x":0.0935,"y":17.5},{"x":0.094,"y":15.9},{"x":0.0945,"y":16.5},{"x":0.095,"y":17.3},
{"x":0.0955,"y":17.7},{"x":0.096,"y":15.7},{"x":0.0965,"y":17.0},{"x":0.097,"y":16.2},{"x":0.0975,"y":15.0},{"x":0.098,"y":17.1},{"x":0.0985,"y":16.8},{"x":0.099,"y":16.9},{"x":0.0995,"y":15.6},{"x":0.1,"y":17.3},
{"x":0.1005,"y":15.2},{"x":0.101,"y":17.4},{"x":0.1015,"y":15.8},{"x":0.102,"y":15.2},{"x":0.1025,"y":16.5},{"x":0.103,"y":15.5},{"x":0.1035,"y":16.8},{"x":0.104,"y":15.8},{"x":0.1045,"y":14.6},{"x":0.105,"y":16.7},
{"x":0.1055,"y":15.9},{"x":0.106,"y":14.9},{"x":0.1065,"y":16.9},{"x":0.107,"y":15.3},{"x":0.1075,"y":14.6},{"x":0.108,"y":16.1},{"x":0.1085,"y":15.5},{"x":0.109,"y":16.3},{"x":0.1095,"y":14.1},{"x":0.11,"y":15.6},
{"x":0.1105,"y":14.4},{"x":0.111,"y":16.5},{"x":0.1115,"y":15.2},{"x":0.112,"y":14.4},{"x":0.1125,"y":15.8},{"x":0.113,"y":14.8},{"x":0.1135,"y":16.1},{"x":0.114,"y":14.0},{"x":0.1145,"y":15.3},{"x":0.115,"y":14.6},
{"x":0.1155,"y":14.5},{"x":0.116,"y":16.3},{"x":0.1165,"y":14.3},{"x":0.117,"y":15.0},{"x":0.1175,"y":15.6},{"x":0.118,"y":13.8},{"x":0.1185,"y":14.7},{"x":0.119,"y":15.8},{"x":0.1195,"y":14.0},{"x":0.12,"y":15.0},
{"x":0.1205,"y":15.3},{"x":0.121,"y":13.1},{"x":0.1215,"y":14.7},{"x":0.122,"y":15.4},{"x":0.1225,"y":13.9},{"x":0.123,"y":14.4},{"x":0.1235,"y":15.1},{"x":0.124,"y":13.6},{"x":0.1245,"y":15.6},{"x":0.125,"y":14.1},
{"x":0.1255,"y":14.1},{"x":0.126,"y":13.1},{"x":0.1265,"y":14.9},{"x":0.127,"y":14.6},{"x":0.1275,"y":14.7},{"x":0.128,"y":13.8},{"x":0.1285,"y":15.3},{"x":0.129,"y":14.2},{"x":0.1295,"y":13.1},{"x":0.13,"y":14.8},
{"x":0.1305,"y":14.8},{"x":0.131,"y":13.9},{"x":0.1315,"y":12.9},{"x":0.132,"y":14.9},{"x":0.1325,"y":14.2},{"x":0.133,"y":13.4},{"x":0.1335,"y":14.4},{"x":0.134,"y":13.1},{"x":0.1345,"y":15.0},{"x":0.135,"y":13.9},
{"x":0.1355,"y":13.2},{"x":0.136,"y":15.0},{"x":0.1365,"y":13.6},{"x":0.137,"y":13.0},{"x":0.1375,"y":14.4},{"x":0.138,"y":13.8},{"x":0.1385,"y":14.5},{"x":0.139,"y":12.6},{"x":0.1395,"y":13.9},{"x":0.14,"y":13.2},
{"x":0.1405,"y":12.9},{"x":0.141,"y":14.1},{"x":0.1415,"y":13.3},{"x":0.142,"y":14.5},{"x":0.1425,"y":12.6},{"x":0.143,"y":13.8},{"x":0.1435,"y":13.1},{"x":0.144,"y":14.0},{"x":0.1445,"y":12.0},{"x":0.145,"y":13.4},
{"x":0.1455,"y":14.5},{"x":0.146,"y":12.7},{"x":0.1465,"y":13.4},{"x":0.147,"y":13.9},{"x":0.1475,"y":12.3},{"x":0.148,"y":13.1},{"x":0.1485,"y":14.1},{"x":0.149,"y":12.5},{"x":0.1495,"y":13.5},{"x":0.15,"y":12.8},
{"x":0.1505,"y":13.9},{"x":0.151,"y":12.5},{"x":0.1515,"y":12.9},{"x":0.152,"y":13.5},{"x":0.1525,"y":12.2},{"x":0.153,"y":14.0},{"x":0.1535,"y":12.6},{"x":0.154,"y":12.2},{"x":0.1545,"y":13.2},{"x":0.155,"y":12.4},
{"x":0.1555,"y":13.2},{"x":0.156,"y":12.2},{"x":0.1565,"y":13.6},{"x":0.157,"y":12.6},{"x":0.1575,"y":11.8},{"x":0.158,"y":13.3},{"x":0.1585,"y":12.7},{"x":0.159,"y":11.9},{"x":0.1595,"y":13.5},{"x":0.16,"y":12.3},
{"x":0.1605,"y":12.4},{"x":0.161,"y":11.5},{"x":0.1615,"y":13.2},{"x":0.162,"y":12.6},{"x":0.1625,"y":11.9},{"x":0.163,"y":12.8},{"x":0.1635,"y":11.6},{"x":0.164,"y":13.3},{"x":0.1645,"y":12.3},{"x":0.165,"y":11.7},
{"x":0.1655,"y":11.5},{"x":0.166,"y":12.7},{"x":0.1665,"y":12.2},{"x":0.167,"y":12.9},{"x":0.1675,"y":11.2},{"x":0.168,"y":12.4},{"x":0.1685,"y":11.7},{"x":0.169,"y":13.1},{"x":0.1695,"y":11.6},{"x":0.17,"y":12.1},
{"x":0.1705,"y":12.5},{"x":0.171,"y":11.7},{"x":0.1715,"y":12.8},{"x":0.172,"y":11.1},{"x":0.1725,"y":12.2},{"x":0.173,"y":11.6},{"x":0.1735,"y":12.5},{"x":0.174,"y":10.7},{"x":0.1745,"y":11.9},{"x":0.175,"y":12.5},
{"x":0.1755,"y":12.4},{"x":0.176,"y":10.9},{"x":0.1765,"y":11.6},{"x":0.177,"y":12.6},{"x":0.1775,"y":11.2},{"x":0.178,"y":12.1},{"x":0.1785,"y":11.5},{"x":0.179,"y":10.6},{"x":0.1795,"y":12.1},{"x":0.18,"y":11.8},
{"x":0.1805,"y":11.1},{"x":0.181,"y":11.5},{"x":0.1815,"y":12.0},{"x":0.182,"y":10.9},{"x":0.1825,"y":12.5},{"x":0.183,"y":11.3},{"x":0.1835,"y":10.9},{"x":0.184,"y":11.8},{"x":0.1845,"y":11.1},{"x":0.185,"y":12.0},
{"x":0.1855,"y":10.6},{"x":0.186,"y":11.9},{"x":0.1865,"y":11.5},{"x":0.187,"y":10.8},{"x":0.1875,"y":12.2},{"x":0.188,"y":11.1},{"x":0.1885,"y":10.6},{"x":0.189,"y":11.7},{"x":0.1895,"y":11.2},{"x":0.19,"y":11.9},
{"x":0.1905,"y":10.3},{"x":0.191,"y":11.8},{"x":0.1915,"y":11.3},{"x":0.192,"y":10.7},{"x":0.1925,"y":11.5},{"x":0.193,"y":10.4},{"x":0.1935,"y":11.9},{"x":0.194,"y":11.0},{"x":0.1945,"y":10.5},{"x":0.195,"y":11.4},
{"x":0.1955,"y":10.1},{"x":0.196,"y":11.2},{"x":0.1965,"y":10.6},{"x":0.197,"y":11.9},{"x":0.1975,"y":10.4},{"x":0.198,"y":10.9},{"x":0.1985,"y":11.3},{"x":0.199,"y":10.0},{"x":0.1995,"y":10.6},{"x":0.2,"y":11.4},
{"x":0.01525,"y":36.0},{"x":0.01575,"y":39.8},{"x":0.01625,"y":37.3},{"x":0.01675,"y":34.4},{"x":0.01725,"y":38.1},{"x":0.01775,"y":39.3},{"x":0.01825,"y":35.0},{"x":0.01875,"y":36.5},{"x":0.01925,"y":32.3},{"x":0.01975,"y":37.0},
{"x":0.02025,"y":34.6},{"x":0.02075,"y":37.1},{"x":0.02125,"y":32.4},{"x":0.02175,"y":34.5},{"x":0.02225,"y":36.9},{"x":0.02275,"y":32.3},{"x":0.02325,"y":34.4},{"x":0.02375,"y":30.4},{"x":0.02425,"y":34.8},{"x":0.02475,"y":31.9},
{"x":0.02525,"y":33.6},{"x":0.02575,"y":30.5},{"x":0.02625,"y":34.4},{"x":0.02675,"y":31.6},{"x":0.02725,"y":29.2},{"x":0.02775,"y":32.8},{"x":0.02825,"y":30.1},{"x":0.02875,"y":31.4},{"x":0.02925,"y":27.5},{"x":0.02975,"y":32.1},
{"x":0.03025,"y":32.5},{"x":0.03075,"y":29.1},{"x":0.03125,"y":30.4},{"x":0.03175,"y":26.9},{"x":0.03225,"y":30.9},{"x":0.03275,"y":29.0},{"x":0.03325,"y":31.1},{"x":0.03375,"y":27.2},{"x":0.03425,"y":29.0},{"x":0.03475,"y":31.2},
{"x":0.03525,"y":27.3},{"x":0.03575,"y":29.1},{"x":0.03625,"y":25.9},{"x":0.03675,"y":29.6},{"x":0.03725,"y":27.2},{"x":0.03775,"y":28.7},{"x":0.03825,"y":26.1},{"x":0.03875,"y":29.5},{"x":0.03925,"y":27.2},{"x":0.03975,"y":25.1},
{"x":0.04025,"y":28.1},{"x":0.04075,"y":25.8},{"x":0.04125,"y":27.0},{"x":0.04175,"y":23.7},{"x":0.04225,"y":27.7},{"x":0.04275,"y":24.6},{"x":0.04325,"y":27.2},{"x":0.04375,"y":25.6},{"x":0.04425,"y":23.6},{"x":0.04475,"y":26.2},
{"x":0.04525,"y":22.8},{"x":0.04575,"y":26.1},{"x":0.04625,"y":24.5},{"x":0.04675,"y":26.2},{"x":0.04725,"y":22.9},{"x":0.04775,"y":24.4},{"x":0.04825,"y":26.2},{"x":0.04875,"y":22.8},{"x":0.04925,"y":24.4},{"x":0.04975,"y":21.6},
{"x":0.05025,"y":24.8},{"x":0.05075,"y":22.7},{"x":0.05125,"y":24.0},{"x":0.05175,"y":21.8},{"x":0.05225,"y":24.7},{"x":0.05275,"y":22.7},{"x":0.05325,"y":21.0},{"x":0.05375,"y":23.6},{"x":0.05425,"y":21.6},{"x":0.05475,"y":22.6},
{"x":0.05525,"y":19.8},{"x":0.05575,"y":23.3},{"x":0.05625,"y":20.7},{"x":0.05675,"y":22.9},{"x":0.05725,"y":21.6},{"x":0.05775,"y":19.9},{"x":0.05825,"y":22.2},{"x":0.05875,"y":22.9},{"x":0.05925,"y":20.4},{"x":0.05975,"y":21.4},
{"x":0.06025,"y":22.3},{"x":0.06075,"y":19.5},{"x":0.06125,"y":20.9},{"x":0.06175,"y":22.4},{"x":0.06225,"y":19.7},{"x":0.06275,"y":21.1},{"x":0.06325,"y":18.7},{"x":0.06375,"y":21.5},{"x":0.06425,"y":19.7},{"x":0.06475,"y":20.9},
{"x":0.06525,"y":19.0},{"x":0.06575,"y":21.5},{"x":0.06625,"y":19.9},{"x":0.06675,"y":18.4},{"x":0.06725,"y":20.6},{"x":0.06775,"y":19.0},{"x":0.06825,"y":19.9},{"x":0.06875,"y":17.5},{"x":0.06925,"y":20.6},{"x":0.06975,"y":18.4},
{"x":0.07025,"y":20.4},{"x":0.07075,"y":19.2},{"x":0.07125,"y":17.8},{"x":0.07175,"y":19.8},{"x":0.07225,"y":20.5},{"x":0.07275,"y":18.4},{"x":0.07325,"y":19.2},{"x":0.07375,"y":17.1},{"x":0.07425,"y":19.6},{"x":0.07475,"y":18.5},
{"x":0.07525,"y":17.5},{"x":0.07575,"y":18.7},{"x":0.07625,"y":20.2},{"x":0.07675,"y":17.7},{"x":0.07725,"y":19.0},{"x":0.07775,"y":16.9},{"x":0.07825,"y":19.4},{"x":0.07875,"y":17.9},{"x":0.07925,"y":19.0},{"x":0.07975,"y":17.3},
{"x":0.08025,"y":19.6},{"x":0.08075,"y":18.1},{"x":0.08125,"y":16.9},{"x":0.08175,"y":19.0},{"x":0.08225,"y":17.5},{"x":0.08275,"y":18.3},{"x":0.08325,"y":16.2},{"x":0.08375,"y":19.0},{"x":0.08425,"y":17.0},{"x":0.08475,"y":18.9},
{"x":0.08525,"y":17.8},{"x":0.08575,"y":16.5},{"x":0.08625,"y":18.3},{"x":0.08675,"y":19.0},{"x":0.08725,"y":17.0},{"x":0.08775,"y":17.8},{"x":0.08825,"y":15.9},{"x":0.08875,"y":18.2},{"x":0.08925,"y":17.1},{"x":0.08975,"y":18.4},
{"x":0.09025,"y":16.1},{"x":0.09075,"y":17.3},{"x":0.09125,"y":18.6},{"x":0.09175,"y":16.4},{"x":0.09225,"y":17.5},{"x":0.09275,"y":15.6},{"x":0.09325,"y":17.9},{"x":0.09375,"y":16.5},{"x":0.09425,"y":17.4},{"x":0.09475,"y":15.8},
{"x":0.09525,"y":17.9},{"x":0.09575,"y":16.5},{"x":0.09625,"y":15.4},{"x":0.09675,"y":17.3},{"x":0.09725,"y":16.0},{"x":0.09775,"y":16.8},{"x":0.09825,"y":14.8},{"x":0.09875,"y":17.3},{"x":0.09925,"y":15.5},{"x":0.09975,"y":17.2},
{"x":0.10025,"y":15.0},{"x":0.10075,"y":16.8},{"x":0.10125,"y":17.4},{"x":0.10175,"y":15.6},{"x":0.10225,"y":16.4},{"x":0.10275,"y":14.6},{"x":0.10325,"y":16.8},{"x":0.10375,"y":15.8},{"x":0.10425,"y":17.0},{"x":0.10475,"y":14.9},
{"x":0.10525,"y":15.9},{"x":0.10575,"y":17.1},{"x":0.10625,"y":15.0},{"x":0.10675,"y":16.1},{"x":0.10725,"y":14.3},{"x":0.10775,"y":16.4},{"x":0.10825,"y":15.2},{"x":0.10875,"y":16.0},{"x":0.10925,"y":14.6},{"x":0.10975,"y":16.6},
{"x":0.11025,"y":15.3},{"x":0.11075,"y":14.2},{"x":0.11125,"y":16.0},{"x":0.11175,"y":14.8},{"x":0.11225,"y":15.5},{"x":0.11275,"y":13.7},{"x":0.11325,"y":16.0},{"x":0.11375,"y":14.3},{"x":0.11425,"y":15.9},{"x":0.11475,"y":15.0},
{"x":0.11525,"y":15.6},{"x":0.11575,"y":16.1},{"x":0.11625,"y":14.4},{"x":0.11675,"y":15.1},{"x":0.11725,"y":13.5},{"x":0.11775,"y":15.5},{"x":0.11825,"y":14.6},{"x":0.11875,"y":15.7},{"x":0.11925,"y":13.8},{"x":0.11975,"y":14.8},
{"x":0.12025,"y":15.9},{"x":0.12075,"y":14.0},{"x":0.12125,"y":15.0},{"x":0.12175,"y":13.4},{"x":0.12225,"y":15.4},{"x":0.12275,"y":14.2},{"x":0.12325,"y":15.1},{"x":0.12375,"y":13.8},{"x":0.12425,"y":15.6},{"x":0.12475,"y":14.4},
{"x":0.12525,"y":13.4},{"x":0.12575,"y":15.1},{"x":0.12625,"y":13.9},{"x":0.12675,"y":14.6},{"x":0.12725,"y":12.9},{"x":0.12775,"y":15.2},{"x":0.12825,"y":13.6},{"x":0.12875,"y":15.0},{"x":0.12925,"y":14.2},{"x":0.12975,"y":13.1},
{"x":0.13025,"y":15.2},{"x":0.13075,"y":13.7},{"x":0.13125,"y":14.4},{"x":0.13175,"y":12.8},{"x":0.13225,"y":14.8},{"x":0.13275,"y":13.9},{"x":0.13325,"y":15.0},{"x":0.13375,"y":13.2},{"x":0.13425,"y":14.1},{"x":0.13475,"y":15.2},
{"x":0.13525,"y":13.3},{"x":0.13575,"y":14.3},{"x":0.13625,"y":12.7},{"x":0.13675,"y":14.7},{"x":0.13725,"y":13.5},{"x":0.13775,"y":14.3},{"x":0.13825,"y":13.0},{"x":0.13875,"y":14.8},{"x":0.13925,"y":13.7},{"x":0.13975,"y":12.7},
{"x":0.14025,"y":14.3},{"x":0.14075,"y":13.1},{"x":0.14125,"y":13.8},{"x":0.14175,"y":12.1},{"x":0.14225,"y":14.3},{"x":0.14275,"y":12.8},{"x":0.14325,"y":14.2},{"x":0.14375,"y":13.4},{"x":0.14425,"y":12.4},{"x":0.14475,"y":13.9},
{"x":0.14525,"y":12.9},{"x":0.14575,"y":13.5},{"x":0.14625,"y":12.1},{"x":0.14675,"y":13.9},{"x":0.14725,"y":13.1},{"x":0.14775,"y":14.1},{"x":0.14825,"y":12.4},{"x":0.14875,"y":13.3},{"x":0.14925,"y":14.3},{"x":0.14975,"y":12.6},
{"x":0.15025,"y":13.5},{"x":0.15075,"y":12.0},{"x":0.15125,"y":13.8},{"x":0.15175,"y":12.8},{"x":0.15225,"y":13.5},{"x":0.15275,"y":12.3},{"x":0.15325,"y":13.9},{"x":0.15375,"y":12.9},{"x":0.15425,"y":11.9},{"x":0.15475,"y":13.5},
{"x":0.15525,"y":12.4},{"x":0.15575,"y":13.0},{"x":0.15625,"y":11.5},{"x":0.15675,"y":13.5},{"x":0.15725,"y":12.1},{"x":0.15775,"y":13.5},{"x":0.15825,"y":12.7},{"x":0.15875,"y":11.7},{"x":0.15925,"y":13.1},{"x":0.15975,"y":13.5},
{"x":0.16025,"y":12.7},{"x":0.16075,"y":11.4},{"x":0.16125,"y":13.1},{"x":0.16175,"y":12.3},{"x":0.16225,"y":13.3},{"x":0.16275,"y":11.6},{"x":0.16325,"y":12.5},{"x":0.16375,"y":13.4},{"x":0.16425,"y":11.8},{"x":0.16475,"y":12.7},
{"x":0.16525,"y":11.3},{"x":0.16575,"y":13.0},{"x":0.16625,"y":12.0},{"x":0.16675,"y":12.7},{"x":0.16725,"y":11.6},{"x":0.16775,"y":13.1},{"x":0.16825,"y":12.1},{"x":0.16875,"y":11.3},{"x":0.16925,"y":12.6},{"x":0.16975,"y":11.7},
{"x":0.17025,"y":12.2},{"x":0.17075,"y":10.8},{"x":0.17125,"y":12.7},{"x":0.17175,"y":11.4},{"x":0.17225,"y":12.7},{"x":0.17275,"y":11.9},{"x":0.17325,"y":11.1},{"x":0.17375,"y":12.3},{"x":0.17425,"y":12.8},{"x":0.17475,"y":11.5},
{"x":0.17525,"y":10.7},{"x":0.17575,"y":12.4},{"x":0.17625,"y":11.6},{"x":0.17675,"y":12.6},{"x":0.17725,"y":11.0},{"x":0.17775,"y":11.8},{"x":0.17825,"y":12.7},{"x":0.17875,"y":11.2},{"x":0.17925,"y":12.0},{"x":0.17975,"y":10.7},
{"x":0.18025,"y":12.3},{"x":0.18075,"y":11.3},{"x":0.18125,"y":12.0},{"x":0.18175,"y":10.9},{"x":0.18225,"y":12.4},{"x":0.18275,"y":11.5},{"x":0.18325,"y":10.7},{"x":0.18375,"y":12.0},{"x":0.18425,"y":11.1},{"x":0.18475,"y":11.6},
{"x":0.18525,"y":10.3},{"x":0.18575,"y":12.1},{"x":0.18625,"y":10.8},{"x":0.18675,"y":12.0},{"x":0.18725,"y":11.3},{"x":0.18775,"y":10.5},{"x":0.18825,"y":11.7},{"x":0.18875,"y":12.1},{"x":0.18925,"y":10.9},{"x":0.18975,"y":11.4},
{"x":0.19025,"y":11.7},{"x":0.19075,"y":11.1},{"x":0.19125,"y":11.9},{"x":0.19175,"y":10.5},{"x":0.19225,"y":11.3},{"x":0.19275,"y":12.1},{"x":0.19325,"y":10.6},{"x":0.19375,"y":11.4},{"x":0.19425,"y":10.2},{"x":0.19475,"y":11.7},
{"x":0.19525,"y":10.7},{"x":0.19575,"y":11.4},{"x":0.19625,"y":10.4},{"x":0.19675,"y":11.8},{"x":0.19725,"y":10.9},{"x":0.19775,"y":10.1},{"x":0.19825,"y":11.4},{"x":0.19875,"y":10.5},{"x":0.19925,"y":11.0},{"x":0.19975,"y":9.7}
]
},
"layer":[
 {"data":{"name":"gauss"},
  "mark":{"type":"point","filled":true,"size":30,"opacity":1,"shape":"circle"},
  "encoding":{
   "x":{"field":"x","type":"quantitative","scale":{"domain":[0,0.22],"nice":false,"zero":false},
    "axis":{"orient":"bottom","values":[0,0.05,0.1,0.15,0.2],"format":"~g","labelFontSize":42,"labelPadding":33,"labelOverlap":false,"labelFlush":false,"tickSize":-18,
     "title":"pulselength [s]","titleFontSize":50,"titleX":1003,"titleY":104,"titleAlign":"right","titleBaseline":"alphabetic","titleAngle":0}},
   "y":{"field":"y","type":"quantitative","scale":{"type":"log","domain":[1,800],"nice":false},
    "axis":{"orient":"left","values":[1,10,100],
     "labelExpr":"datum.value===100?'10²':datum.value===10?'10':'1'",
     "labelFontSize":42,"labelPadding":57,"labelOverlap":false,"labelFlush":false,"tickSize":-30,
     "title":["χ²","──","ndf"],"titleFontSize":45,"titleLineHeight":29,"titleAngle":-90,"titleX":-170,"titleY":19,"titleAlign":"center","titleBaseline":"alphabetic"}},
   "color":{"datum":"Gauss","type":"nominal","scale":{"domain":["Gauss","Poisson"],"range":["#973030","#FFCA30"]},
    "legend":{"title":"fit method","orient":"none","legendX":583,"legendY":13,"titleFontSize":30,"labelFontSize":30,"titleFontWeight":"normal","titleFont":"Liberation Sans","labelFont":"Liberation Sans","titleColor":"black","labelColor":"black","symbolSize":12,"symbolType":"circle","symbolStrokeWidth":0,"padding":0,"symbolOffset":12,"labelOffset":18,"rowPadding":23,"titlePadding":20}}}},
 {"data":{"name":"poisson"},
  "mark":{"type":"point","filled":true,"size":30,"opacity":1,"shape":"circle"},
  "encoding":{
   "x":{"field":"x","type":"quantitative","scale":{"domain":[0,0.22],"nice":false,"zero":false},
    "axis":{"orient":"bottom","values":[0.01,0.02,0.03,0.04,0.06,0.07,0.08,0.09,0.11,0.12,0.13,0.14,0.16,0.17,0.18,0.19,0.21],"labels":false,"domain":false,"tickSize":-9,"title":null}},
   "y":{"field":"y","type":"quantitative","scale":{"type":"log","domain":[1,800],"nice":false},
    "axis":{"orient":"left","values":[2,3,4,5,6,7,8,9,20,30,40,50,60,70,80,90,200,300,400,500,600,700,800],"labels":false,"domain":false,"tickSize":-15,"title":null}},
   "color":{"datum":"Poisson","type":"nominal"}}},
 {"data":{"name":"poisson"},
  "mark":{"type":"point","filled":true,"size":30,"opacity":0},
  "encoding":{
   "x":{"field":"x","type":"quantitative","scale":{"domain":[0,0.22],"nice":false,"zero":false},"axis":null},
   "y":{"field":"y","type":"quantitative","scale":{"type":"log","domain":[1,800],"nice":false},
    "axis":{"orient":"right","values":[1,10,100],"labels":false,"tickSize":-28,
     "title":"×10⁻⁶","titleFontSize":42,"titleAngle":0,"titleX":8,"titleY":551,"titleAlign":"left","titleBaseline":"alphabetic"}}}},
 {"data":{"name":"poisson"},
  "mark":{"type":"point","filled":true,"size":30,"opacity":0},
  "encoding":{
   "x":{"field":"x","type":"quantitative","scale":{"domain":[0,0.22],"nice":false,"zero":false},"axis":null},
   "y":{"field":"y","type":"quantitative","scale":{"type":"log","domain":[1,800],"nice":false},
    "axis":{"orient":"right","values":[2,3,4,5,6,7,8,9,20,30,40,50,60,70,80,90,200,300,400,500,600,700,800],"labels":false,"domain":false,"tickSize":-13,"title":null}}}}
],
"resolve":{"scale":{"x":"shared","y":"shared"},"axis":{"x":"independent","y":"independent"}}
}
